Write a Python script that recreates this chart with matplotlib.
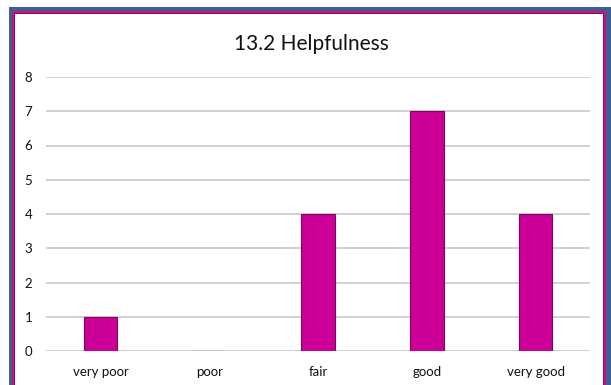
import matplotlib.pyplot as plt
from matplotlib.patches import Rectangle

categories = ["very poor", "poor", "fair", "good", "very good"]
counts = [1, 0, 4, 7, 4]
y_ticks = [0, 1, 2, 3, 4, 5, 6, 7, 8]

plt.rcParams["font.family"] = ["Lato", "DejaVu Sans"]

W, H = 611, 385
fig = plt.figure(figsize=(W / 100, H / 100), dpi=100)
fig.patch.set_facecolor("white")

# frame: blue outer band, magenta inner band
fig.add_artist(Rectangle((9 / W, 0), (W - 9) / W, (H - 7) / H,
                         transform=fig.transFigure, facecolor="#3e5f92",
                         edgecolor="none", zorder=0))
fig.add_artist(Rectangle((12 / W, 0), (606 - 12) / W, (H - 11) / H,
                         transform=fig.transFigure, facecolor="#c8118a",
                         edgecolor="none", zorder=0))
fig.add_artist(Rectangle((14 / W, 0), (604 - 14) / W, (H - 13) / H,
                         transform=fig.transFigure, facecolor="#8a0a55",
                         edgecolor="none", zorder=0))
fig.add_artist(Rectangle((15 / W, 0), (603 - 15) / W, (H - 14) / H,
                         transform=fig.transFigure, facecolor="white",
                         edgecolor="none", zorder=0))

ax = fig.add_axes([46 / W, (H - 351) / H, (590 - 46) / W, (351 - 77) / H])
ax.set_facecolor("none")

x = range(len(categories))
ax.bar(x, counts, width=0.31, color="#cc0099", edgecolor="#7a0a55",
       linewidth=0.8, zorder=3)

ax.set_xlim(-0.5, len(categories) - 0.5)
ax.set_ylim(0, 8)
ax.set_yticks(y_ticks)
ax.set_xticks(list(x))
ax.set_xticklabels(categories)
ax.grid(axis="y", color="#c8c8c8", linewidth=1.2, zorder=0)
ax.tick_params(axis="both", length=0, labelsize=9.5, colors="#111111")
ax.tick_params(axis="y", pad=10)
ax.tick_params(axis="x", pad=11)
for s in ax.spines.values():
    s.set_visible(False)

fig.text(311 / W, 1 - 44 / H, "13.2 Helpfulness", ha="center", va="center",
         fontsize=15, color="#111111")

fig.savefig("out.png", dpi=100)
